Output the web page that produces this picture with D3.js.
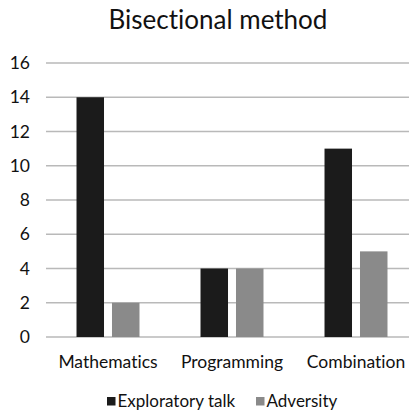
<!DOCTYPE html>
<html>
<head>
<meta charset="utf-8">
<script src="https://cdn.jsdelivr.net/npm/d3@7"></script>
<style>
body{margin:0;background:#fff;}
text{font-family:Lato,"Open Sans",sans-serif;fill:#111;font-variant-ligatures:none;}
</style>
</head>
<body>
<div id="chart"></div>
<script>
var categories=['Mathematics','Programming','Combination'];
var seriesNames=['Exploratory talk','Adversity'];
var exploratoryTalk=[14,4,11];
var adversity=[2,4,5];
var yTicks=[0,2,4,6,8,10,12,14,16];
var colors=['#1b1b1b','#8a8a8a'];

var series=[exploratoryTalk,adversity];
var data=categories.map(function(c,i){
    return {cat:c,values:series.map(function(s,j){return {name:seriesNames[j],value:s[i]};})};
});

var width=409,height=410;
var svg=d3.select('#chart').append('svg')
    .attr('width',width)
    .attr('height',height);

var x0=d3.scaleBand()
    .domain(categories)
    .range([46,418])
    .padding(0);
var x1=d3.scaleBand()
    .domain(seriesNames)
    .range([0,x0.bandwidth()])
    .paddingInner(0.225)
    .paddingOuter(0.86);
var y=d3.scaleLinear()
    .domain([0,16])
    .range([337,63]);

// gridlines
svg.selectAll('.grid')
    .data(yTicks)
    .enter().append('line')
    .attr('class','grid')
    .attr('x1',46)
    .attr('x2',width)
    .attr('y1',function(d){return y(d);})
    .attr('y2',function(d){return y(d);})
    .attr('stroke','#b9b9b9')
    .attr('stroke-width',1.5);

// y labels
svg.selectAll('.ylab')
    .data(yTicks)
    .enter().append('text')
    .attr('class','ylab')
    .attr('x',30)
    .attr('y',function(d){return y(d)+6;})
    .attr('text-anchor','end')
    .style('font-size','17.5px')
    .text(function(d){return d;});

var groups=svg.selectAll('.group')
    .data(data)
    .enter().append('g')
    .attr('class','group')
    .attr('transform',function(d){return 'translate('+x0(d.cat)+',0)';});

groups.selectAll('rect')
    .data(function(d){return d.values;})
    .enter().append('rect')
    .attr('x',function(d){return x1(d.name);})
    .attr('y',function(d){return y(d.value);})
    .attr('width',x1.bandwidth())
    .attr('height',function(d){return y(0)-y(d.value);})
    .attr('fill',function(d,i){return colors[i];});

// category labels
svg.selectAll('.xlab')
    .data(categories)
    .enter().append('text')
    .attr('class','xlab')
    .attr('x',function(d){return x0(d)+x0.bandwidth()/2;})
    .attr('y',368)
    .attr('text-anchor','middle')
    .style('font-size','17.5px')
    .text(function(d){return d;});

// title
svg.append('text')
    .attr('x',218)
    .attr('y',29)
    .attr('text-anchor','middle')
    .style('font-size','26px')
    .text('Bisectional method');

// legend
var legX=[107,256];
var leg=svg.selectAll('.leg')
    .data(seriesNames)
    .enter().append('g')
    .attr('class','leg')
    .attr('transform',function(d,i){return 'translate('+legX[i]+',0)';});
leg.append('rect')
    .attr('x',0)
    .attr('y',397)
    .attr('width',8.5)
    .attr('height',8.5)
    .attr('fill',function(d,i){return colors[i];});
leg.append('text')
    .attr('x',10.5)
    .attr('y',407)
    .style('font-size','17px')
    .text(function(d){return d;});
</script>
</body>
</html>
